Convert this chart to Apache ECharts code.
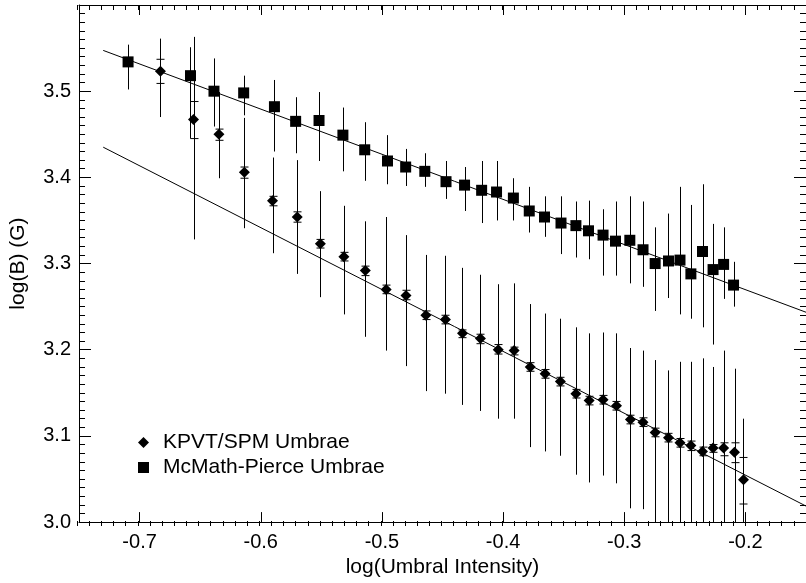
<!DOCTYPE html>
<html>
<head>
<meta charset="utf-8">
<title>log(B) vs log(Umbral Intensity)</title>
<script src="https://cdn.jsdelivr.net/npm/echarts@6.0.0/dist/echarts.min.js"></script>
<style>
	body { margin: 0; background: #fff; }
	#main { width: 806px; height: 583px; }
</style>
</head>
<body>
<div id="main"></div>
<script>
// McMath-Pierce umbrae (squares)
var sqX = [-0.7095, -0.658, -0.6386, -0.6141, -0.5887, -0.5712, -0.5519, -0.5322, -0.5142, -0.4954, -0.4804, -0.4646, -0.4471, -0.4318, -0.4177, -0.4054, -0.3915, -0.3784, -0.3658, -0.3522, -0.3399, -0.3295, -0.3175, -0.3072, -0.2954, -0.2845, -0.2745, -0.2635, -0.254, -0.245, -0.2354, -0.2267, -0.218, -0.2098];
var sqY = [3.534, 3.518, 3.500, 3.498, 3.482, 3.465, 3.466, 3.449, 3.432, 3.419, 3.412, 3.407, 3.395, 3.391, 3.385, 3.383, 3.376, 3.361, 3.354, 3.347, 3.344, 3.338, 3.333, 3.326, 3.327, 3.316, 3.300, 3.303, 3.304, 3.288, 3.314, 3.293, 3.299, 3.275];
var sqHi = [3.554, 3.551, 3.538, 3.518, 3.513, 3.493, 3.499, 3.481, 3.464, 3.449, 3.433, 3.428, 3.419, 3.412, 3.419, 3.419, 3.399, 3.389, 3.378, 3.378, 3.372, 3.373, 3.363, 3.372, 3.378, 3.372, 3.342, 3.358, 3.389, 3.368, 3.392, 3.346, 3.342, 3.302];
var sqLo = [3.502, 3.445, 3.459, 3.472, 3.430, 3.428, 3.419, 3.407, 3.396, 3.392, 3.390, 3.389, 3.375, 3.361, 3.347, 3.350, 3.350, 3.336, 3.331, 3.311, 3.307, 3.305, 3.286, 3.286, 3.277, 3.273, 3.245, 3.260, 3.241, 3.236, 3.226, 3.206, 3.259, 3.250];

// KPVT/SPM umbrae (diamonds)
var dmX = [-0.6828, -0.6555, -0.6345, -0.6135, -0.5903, -0.5699, -0.5508, -0.5314, -0.5137, -0.4965, -0.4801, -0.4637, -0.4476, -0.4335, -0.4187, -0.404, -0.3909, -0.3776, -0.3653, -0.3527, -0.3399, -0.329, -0.3175, -0.3064, -0.2949, -0.2845, -0.2745, -0.2635, -0.254, -0.245, -0.2354, -0.2267, -0.218, -0.209, -0.2016];
var dmY = [3.523, 3.467, 3.450, 3.406, 3.373, 3.354, 3.323, 3.308, 3.292, 3.270, 3.263, 3.240, 3.235, 3.219, 3.213, 3.200, 3.199, 3.180, 3.172, 3.163, 3.149, 3.141, 3.142, 3.135, 3.119, 3.116, 3.104, 3.098, 3.092, 3.089, 3.082, 3.086, 3.086, 3.081, 3.049];
var dmHi = [3.561, 3.563, 3.499, 3.469, 3.423, 3.420, 3.384, 3.367, 3.349, 3.354, 3.333, 3.310, 3.309, 3.295, 3.287, 3.276, 3.277, 3.253, 3.242, 3.236, 3.226, 3.219, 3.220, 3.219, 3.202, 3.199, 3.188, 3.176, 3.186, 3.186, 3.190, 3.180, 3.199, 3.178, 3.120];
var dmLo = [3.470, 3.328, 3.399, 3.341, 3.312, 3.288, 3.261, 3.241, 3.215, 3.199, 3.181, 3.152, 3.149, 3.136, 3.129, 3.120, 3.120, 3.087, 3.082, 3.077, 3.055, 3.046, 3.054, 3.045, 3.016, 3.015, 2.990, 2.990, 2.990, 2.990, 2.990, 2.990, 2.990, 2.990, 2.990];
var dmCapHi = [3.537, 3.488, 3.456, 3.412, 3.378, 3.360, 3.328, 3.313, 3.297, 3.275, 3.269, 3.245, 3.240, 3.223, 3.218, 3.206, 3.203, 3.185, 3.177, 3.168, 3.154, 3.146, 3.147, 3.140, 3.124, 3.121, 3.109, 3.103, 3.097, 3.094, 3.087, 3.090, 3.092, 3.092, 3.075];
var dmCapLo = [3.509, 3.445, 3.443, 3.399, 3.367, 3.348, 3.318, 3.303, 3.286, 3.265, 3.258, 3.235, 3.230, 3.214, 3.207, 3.195, 3.194, 3.175, 3.167, 3.158, 3.144, 3.136, 3.137, 3.130, 3.114, 3.111, 3.099, 3.093, 3.087, 3.083, 3.077, 3.081, 3.077, 3.069, 3.021];

// fitted lines (two end points each)
var fitX = [-0.73, -0.15];
var fitSq = [3.5473, 3.2435];
var fitDm = [3.435, 3.0186];

// axes
var xMin = -0.75, xMax = -0.15;
var yMin = 3.0, yMax = 3.6;
var xTicks = [-0.7, -0.6, -0.5, -0.4, -0.3, -0.2];

var font = 'Liberation Sans';
var chart = echarts.init(document.getElementById('main'));

// vertical error bar, clipped to the y range
function renderBar(params, api) {
	var x = api.value(0);
	var lo = Math.max(api.value(1), yMin);
	var hi = Math.min(api.value(2), yMax);
	var p1 = api.coord([x, lo]);
	var p2 = api.coord([x, hi]);
	var px = Math.round(p1[0]) + 0.5;
	return {
		type: 'line',
		shape: { x1: px, y1: p1[1], x2: px, y2: p2[1] },
		style: { stroke: '#000', lineWidth: 1 }
	};
}

// short error bar with caps
function renderCap(params, api) {
	var x = api.value(0);
	var p1 = api.coord([x, api.value(1)]);
	var p2 = api.coord([x, api.value(2)]);
	var px = Math.round(p1[0]) + 0.5;
	var w = 4;
	var st = { stroke: '#000', lineWidth: 1 };
	return {
		type: 'group',
		children: [
			{ type: 'line', shape: { x1: px, y1: p1[1], x2: px, y2: p2[1] }, style: st },
			{ type: 'line', shape: { x1: px - w, y1: p1[1], x2: px + w, y2: p1[1] }, style: st },
			{ type: 'line', shape: { x1: px - w, y1: p2[1], x2: px + w, y2: p2[1] }, style: st }
		]
	};
}

function pairs(xs, a, b) {
	return xs.map(function (x, i) { return b ? [x, a[i], b[i]] : [x, a[i]]; });
}

var black = { color: '#000' };
var solid = { color: '#000', opacity: 1 };
var lineBlack = { lineStyle: { color: '#000', width: 1 } };

option = {
	animation: false,
	textStyle: { fontFamily: font, color: '#000' },
	grid: [
		{ left: 77, top: 5, width: 733, height: 521 },
		{ left: 77, top: 5, width: 733, height: 521 }
	],
	legend: {
		orient: 'vertical',
		left: 133,
		top: 427,
		itemWidth: 11,
		itemHeight: 11,
		itemGap: 4,
		textStyle: { fontSize: 21, color: '#000', fontFamily: font, padding: [0, 0, 0, 9], lineHeight: 21 },
		data: [
			{ name: 'KPVT/SPM Umbrae', icon: 'diamond', itemStyle: solid },
			{ name: 'McMath-Pierce Umbrae', icon: 'rect', itemStyle: solid }
		]
	},
	xAxis: [
		{
			type: 'value', gridIndex: 0, position: 'bottom', min: xMin, max: xMax,
			name: 'log(Umbral Intensity)', nameLocation: 'middle', nameGap: 30,
			nameTextStyle: { fontSize: 21, color: '#000', fontFamily: font },
			axisLine: lineBlack,
			axisTick: { inside: true, length: 10, customValues: xTicks, lineStyle: black },
			axisLabel: {
				customValues: xTicks, fontSize: 20, color: '#000', margin: 10,
				formatter: function (v) { return v.toFixed(1); }
			},
			splitLine: { show: false }
		},
		{
			type: 'value', gridIndex: 0, position: 'top', min: xMin, max: xMax,
			axisLine: lineBlack,
			axisTick: { inside: true, length: 10, customValues: xTicks, lineStyle: black },
			axisLabel: { show: false },
			splitLine: { show: false }
		},
		//小刻度 0.01
		{
			type: 'value', gridIndex: 1, position: 'bottom', min: xMin, max: xMax, interval: 0.01,
			axisLine: { show: false },
			axisTick: { inside: true, length: 5, lineStyle: black },
			axisLabel: { show: false },
			splitLine: { show: false }
		},
		{
			type: 'value', gridIndex: 1, position: 'top', min: xMin, max: xMax, interval: 0.01,
			axisLine: { show: false },
			axisTick: { inside: true, length: 5, lineStyle: black },
			axisLabel: { show: false },
			splitLine: { show: false }
		}
	],
	yAxis: [
		{
			type: 'value', gridIndex: 0, position: 'left', min: yMin, max: yMax, interval: 0.1,
			name: 'log(B) (G)', nameLocation: 'middle', nameGap: 50, nameRotate: 90,
			nameTextStyle: { fontSize: 21, color: '#000', fontFamily: font },
			axisLine: lineBlack,
			axisTick: { inside: true, length: 12, lineStyle: black },
			minorTick: { show: true, splitNumber: 10, length: 6, lineStyle: black },
			axisLabel: {
				fontSize: 20, color: '#000', margin: 8, showMaxLabel: false,
				formatter: function (v) { return v.toFixed(1); }
			},
			splitLine: { show: false },
			minorSplitLine: { show: false }
		},
		{
			type: 'value', gridIndex: 0, position: 'right', min: yMin, max: yMax, interval: 0.1,
			axisLine: lineBlack,
			axisTick: { inside: true, length: 12, lineStyle: black },
			minorTick: { show: true, splitNumber: 10, length: 6, lineStyle: black },
			axisLabel: { show: false },
			splitLine: { show: false },
			minorSplitLine: { show: false }
		},
		{
			type: 'value', gridIndex: 1, min: yMin, max: yMax, show: false
		}
	],
	series: [
		{
			type: 'line', name: 'fitSq', data: pairs(fitX, fitSq),
			symbol: 'none', lineStyle: { color: '#000', width: 1 }, silent: true
		},
		{
			type: 'line', name: 'fitDm', data: pairs(fitX, fitDm),
			symbol: 'none', lineStyle: { color: '#000', width: 1 }, silent: true
		},
		{
			type: 'custom', name: 'sqBars', renderItem: renderBar,
			encode: { x: 0, y: [1, 2] }, data: pairs(sqX, sqLo, sqHi), silent: true
		},
		{
			type: 'custom', name: 'dmBars', renderItem: renderBar,
			encode: { x: 0, y: [1, 2] }, data: pairs(dmX, dmLo, dmHi), silent: true
		},
		{
			type: 'custom', name: 'dmCaps', renderItem: renderCap,
			encode: { x: 0, y: [1, 2] }, data: pairs(dmX, dmCapLo, dmCapHi), silent: true
		},
		{
			type: 'scatter', name: 'McMath-Pierce Umbrae', data: pairs(sqX, sqY),
			symbol: 'rect', symbolSize: 11, itemStyle: solid, z: 5
		},
		{
			type: 'scatter', name: 'KPVT/SPM Umbrae', data: pairs(dmX, dmY),
			symbol: 'diamond', symbolSize: 11, itemStyle: solid, z: 5
		}
	]
};
chart.setOption(option);
</script>
</body>
</html>
